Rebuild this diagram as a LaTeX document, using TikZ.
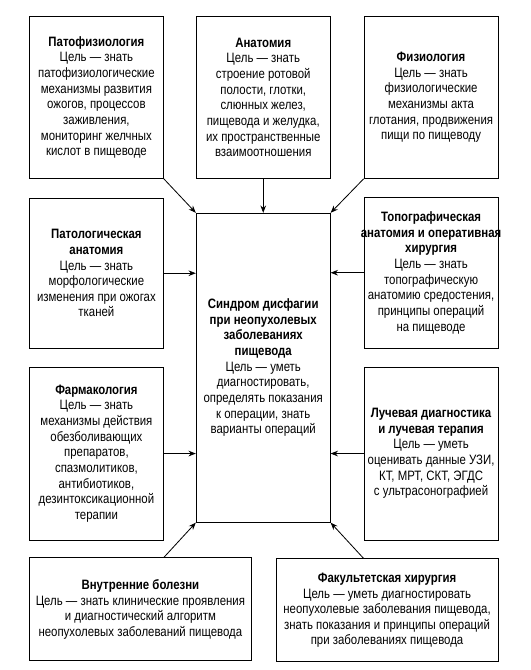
\documentclass[tikz,border=0pt]{standalone}
\usepackage{fontspec}
\setmainfont{Liberation Sans}[FakeStretch=0.84]
\usepackage{tikz}
\usetikzlibrary{arrows.meta, positioning, calc}
\tikzset{
  subj/.style={rectangle, draw=black, line width=0.7pt, minimum width=4.02cm, align=center, inner xsep=0.5pt, inner ysep=2pt, font=\fontsize{11.6}{13.35}\selectfont},
  wide/.style={subj, minimum width=6.66cm, minimum height=3.09cm},
  arrow/.style={-{Stealth[length=2.2mm, width=1.7mm]}, line width=0.7pt},
}

\begin{document}
\begin{tikzpicture}
\node[subj, minimum height=4.86cm] (anat){\textbf{Анатомия}\\Цель — знать\\строение ротовой\\полости, глотки,\\слюнных желез,\\пищевода и желудка,\\их пространственные\\взаимоотношения};
\node[subj, minimum height=4.86cm, left=0.96cm of anat] (patfiz){\textbf{Патофизиология}\\Цель — знать\\патофизиологические\\механизмы развития\\ожогов, процессов\\заживления,\\мониторинг желчных\\кислот в пищеводе};
\node[subj, minimum height=4.86cm, right=0.99cm of anat] (fiz){\textbf{Физиология}\\Цель — знать\\физиологические\\механизмы акта\\глотания, продвижения\\пищи по пищеводу};
\node[subj, minimum height=9.27cm, below=1.02cm of anat] (sindr){\textbf{Синдром дисфагии}\\\textbf{при неопухолевых}\\\textbf{заболеваниях}\\\textbf{пищевода}\\Цель — уметь\\диагностировать,\\определять показания\\к операции, знать\\варианты операций};
\node[subj, minimum height=4.5cm, below=0.57cm of patfiz] (patanat){\textbf{Патологическая}\\\textbf{анатомия}\\Цель — знать\\морфологические\\изменения при ожогах\\тканей};
\node[subj, minimum height=5.19cm, below=0.54cm of patanat] (farm){\textbf{Фармакология}\\Цель — знать\\механизмы действия\\обезболивающих\\препаратов,\\спазмолитиков,\\антибиотиков,\\дезинтоксикационной\\терапии};
\node[subj, minimum height=4.53cm, below=0.54cm of fiz] (topo){\textbf{Топографическая}\\\makebox[3.9cm]{\textbf{анатомия и оперативная}}\\\textbf{хирургия}\\Цель — знать\\топографическую\\анатомию средостения,\\принципы операций\\на пищеводе};
\node[subj, minimum height=5.19cm, below=0.54cm of topo] (luch){\textbf{Лучевая диагностика}\\\textbf{и лучевая терапия}\\Цель — уметь\\оценивать данные УЗИ,\\КТ, МРТ, СКТ, ЭГДС\\с ультрасонографией};
\node[wide, below=0.51cm of farm.south west, anchor=north west] (vnutr){\textbf{Внутренние болезни}\\Цель — знать клинические проявления\\и диагностический алгоритм\\неопухолевых заболеваний пищевода};
\node[wide, below=0.54cm of luch.south east, anchor=north east] (fakult){\textbf{Факультетская хирургия}\\Цель — уметь диагностировать\\неопухолевые заболевания пищевода,\\знать показания и принципы операций\\при заболеваниях пищевода};
\coordinate (vn) at (farm.east |- vnutr.north);
\coordinate (fk) at (luch.west |- fakult.north);
\draw[arrow](anat)--(sindr);
\draw[arrow](patfiz.south east)--(sindr.north west);
\draw[arrow](fiz.south west)--(sindr.north east);
\draw[arrow](patanat.east)--(patanat.east -| sindr.west);
\draw[arrow](topo.west)--(topo.west -| sindr.east);
\draw[arrow](farm.east)--(farm.east -| sindr.west);
\draw[arrow](luch.west)--(luch.west -| sindr.east);
\draw[arrow](vn)--(sindr.south west);
\draw[arrow](fk)--(sindr.south east);
\useasboundingbox ($(patfiz.north west)+(-0.87,0.48)$) rectangle ++(15.9,-20.1);
\end{tikzpicture}
\end{document}
